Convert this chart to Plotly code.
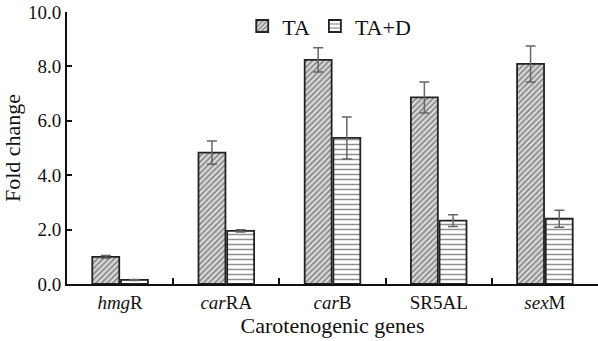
import plotly.graph_objects as go

genes = ["hmgR", "carRA", "carB", "SR5AL", "sexM"]
gene_labels = ["<i>hmg</i>R", "<i>car</i>RA", "<i>car</i>B", "SR5AL", "<i>sex</i>M"]
ta_values = [1.0, 4.83, 8.24, 6.86, 8.09]
ta_errors = [0.05, 0.43, 0.45, 0.57, 0.66]
tad_values = [0.15, 1.95, 5.37, 2.33, 2.40]
tad_errors = [0.02, 0.04, 0.77, 0.22, 0.31]
y_ticks = [0, 2, 4, 6, 8, 10]

font = "Liberation Serif, Times New Roman, serif"

fig = go.Figure()
fig.add_trace(go.Bar(
    x=genes, y=ta_values, name="TA",
    marker=dict(color="white", line=dict(color="#222", width=1.8),
                pattern=dict(shape="/", size=4, solidity=0.5, fgcolor="#3a3a3a", bgcolor="#e0e0e0")),
    error_y=dict(type="data", array=ta_errors, color="#666", thickness=1.5, width=5),
))
fig.add_trace(go.Bar(
    x=genes, y=tad_values, name="TA+D",
    marker=dict(color="white", line=dict(color="#222", width=1.8),
                pattern=dict(shape="-", size=5, solidity=0.3, fgcolor="#222", bgcolor="white")),
    error_y=dict(type="data", array=tad_errors, color="#666", thickness=1.5, width=5),
))

fig.update_layout(
    width=598, height=341,
    margin=dict(l=67, r=0, t=12, b=57),
    paper_bgcolor="white", plot_bgcolor="white",
    barmode="group", bargap=0.46, bargroupgap=0.06,
    font=dict(family=font, size=19, color="#111"),
    showlegend=True,
    legend=dict(orientation="h", x=0.33, y=1.025, xanchor="left", yanchor="top",
                font=dict(size=22), itemwidth=30,
                bgcolor="rgba(0,0,0,0)", tracegroupgap=0),
    xaxis=dict(
        tickmode="array", tickvals=genes, ticktext=gene_labels,
        tickson="boundaries", ticks="inside", ticklen=6, tickwidth=1.5, tickcolor="#111",
        showline=True, linecolor="#111", linewidth=1.8, showgrid=False,
        title=dict(text="Carotenogenic genes", font=dict(size=22), standoff=6),
        tickfont=dict(size=19),
    ),
    yaxis=dict(
        range=[0, 10], tickvals=y_ticks, tickformat=".1f", ticklabeloverflow="allow",
        ticks="inside", ticklen=5, tickwidth=1.5, tickcolor="#111",
        showline=True, linecolor="#111", linewidth=1.8, showgrid=False, zeroline=False,
        title=dict(text="Fold change", font=dict(size=22), standoff=2),
        tickfont=dict(size=19),
    ),
)

fig.write_html("out.html", config={"displayModeBar": False},
               post_script="document.body.style.margin='0';")
